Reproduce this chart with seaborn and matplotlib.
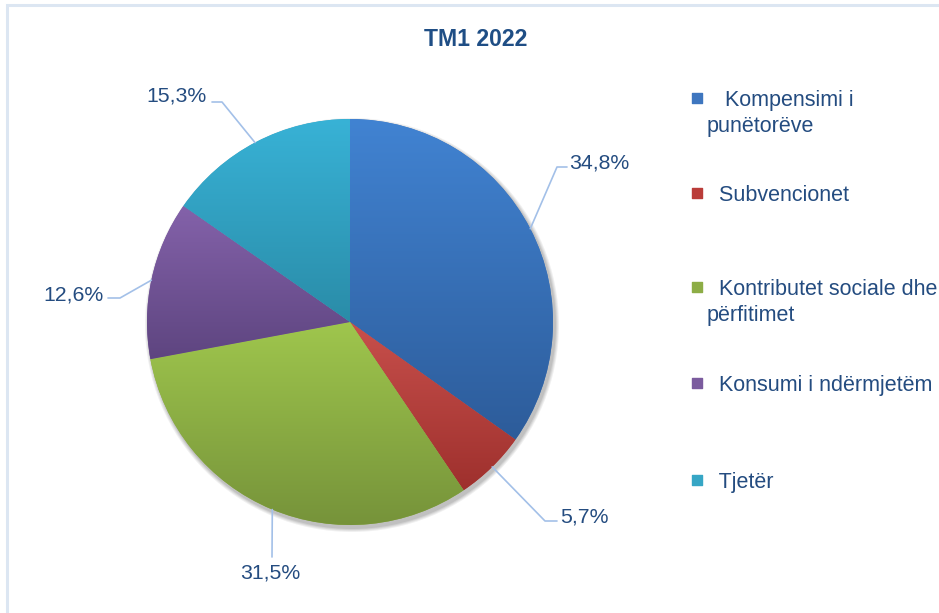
import numpy as np
import matplotlib
matplotlib.use("Agg")
import matplotlib.pyplot as plt
import seaborn as sns
from matplotlib.colors import LinearSegmentedColormap
from matplotlib.patches import Circle
from matplotlib.lines import Line2D

# --- Data ---
categories = ["Kompensimi i punëtorëve", "Subvencionet",
              "Kontributet sociale dhe përfitimet", "Konsumi i ndërmjetëm", "Tjetër"]
legend_labels = ["   Kompensimi i\npunëtorëve", "  Subvencionet",
                 "  Kontributet sociale dhe\npërfitimet", "  Konsumi i ndërmjetëm", "  Tjetër"]
shares = [34.8, 5.7, 31.5, 12.6, 15.3]
value_labels = ["34,8%", "5,7%", "31,5%", "12,6%", "15,3%"]

# gradient colours per slice (top, bottom) and legend swatch colour
top_colors = ["#4183D2", "#C8504C", "#9FC64D", "#8462AA", "#38B2D6"]
bottom_colors = ["#2D5C9A", "#9E302D", "#76933A", "#5E4580", "#2A8CA8"]
swatch_colors = ["#3E76BF", "#BA3C39", "#8DAD46", "#7B5B9E", "#36A6C5"]

TEXT_COLOR = "#244C80"

sns.set_theme(style="white")
plt.rcParams["font.family"] = ["Liberation Sans", "DejaVu Sans"]

fig = plt.figure(figsize=(9.39, 6.13), dpi=100)
ax = fig.add_axes([0, 0, 1, 1])

# pie geometry in pixel units
cx, cy, R = 350, 613 - 322, 203

# soft shadow
for k, a in enumerate([0.06, 0.06, 0.07, 0.08]):
    ax.add_patch(Circle((cx + 2, cy - 3), R + 4 - k, color="#000000", alpha=a,
                        lw=0, zorder=0))

wedges, _ = ax.pie(shares, startangle=90, counterclock=False, radius=R,
                   center=(cx, cy), colors=swatch_colors,
                   wedgeprops=dict(linewidth=0))
ax.set_xlim(0, 939)
ax.set_ylim(0, 613)
ax.set_aspect("equal")
ax.axis("off")

# gradient fill clipped to each wedge
grad = np.linspace(0, 1, 256).reshape(-1, 1)
for w, ct, cb in zip(wedges, top_colors, bottom_colors):
    ext = w.get_path().get_extents()
    cmap = LinearSegmentedColormap.from_list("g", [cb, ct])
    im = ax.imshow(grad, cmap=cmap, origin="lower", aspect="auto",
                   extent=[ext.x0, ext.x1, ext.y0, ext.y1], zorder=2)
    im.set_clip_path(w)
    w.set_zorder(1)
ax.set_xlim(0, 939)
ax.set_ylim(0, 613)

# leader lines and value labels
elbows = [[(557, 167), (567, 167)], [(545, 521), (557, 521)],
          [(272, 557)], [(120, 298), (108, 298)], [(222, 102), (212, 102)]]
text_pos = [(569, 163, "left"), (560, 517, "left"), (270, 573, "center"),
            (104, 295, "right"), (207, 96, "right")]
cum = np.cumsum([0] + shares)
for i, s in enumerate(shares):
    mid = np.deg2rad(90 - 3.6 * (cum[i] + s / 2))
    px, py = cx + R * np.cos(mid), cy + R * np.sin(mid)
    xs = [px] + [e[0] for e in elbows[i]]
    ys = [py] + [613 - e[1] for e in elbows[i]]
    ax.add_line(Line2D(xs, ys, color="#A3C0E8", lw=1.2, zorder=3))
    tx, ty, ha = text_pos[i]
    ax.text(tx, 613 - ty, value_labels[i], ha=ha, va="center",
            fontsize=15.3, color=TEXT_COLOR)

# title
ax.text(476, 613 - 40, "TM1 2022", ha="center", va="center", fontsize=16.6,
        fontweight="bold", color="#1F4E85")

# legend
legend_y = [98, 193, 287, 383, 480]
for lab, col, y in zip(legend_labels, swatch_colors, legend_y):
    ax.scatter([697], [613 - y], marker="s", s=55, color=col, zorder=4)
    ax.text(707, 613 - y + 8, lab, ha="left", va="top", fontsize=15.5,
            color=TEXT_COLOR, linespacing=1.3)

# chart frame
ax.add_line(Line2D([7, 7, 939], [0, 613 - 5, 613 - 5], color="#DCE6F2", lw=2.2,
                   zorder=0, solid_joinstyle="miter"))

fig.savefig("out.png", dpi=100)
